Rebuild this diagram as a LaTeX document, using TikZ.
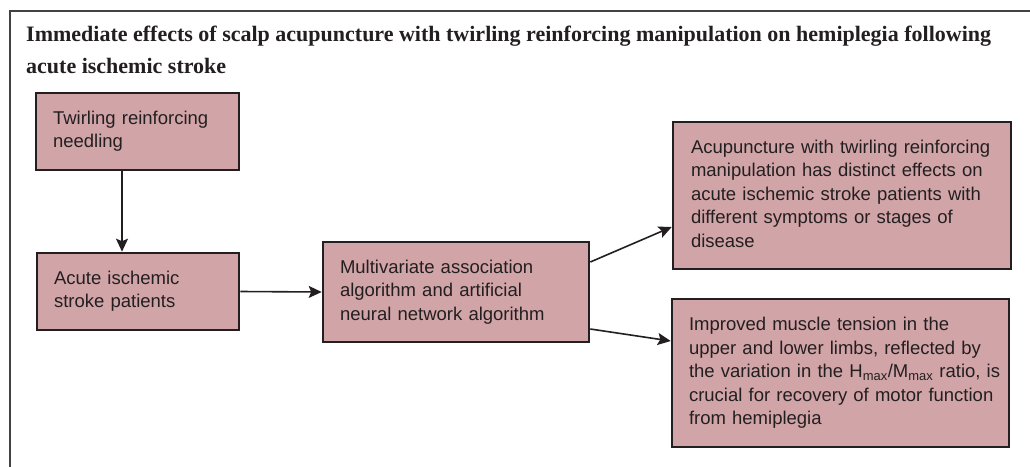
\documentclass[tikz,border=0pt]{standalone}
\usepackage{fontspec}
\setmainfont{Liberation Serif}
\newfontfamily\boxfont{Liberation Sans}
\usetikzlibrary{arrows.meta}
\definecolor{boxfill}{HTML}{D1A4A7}
\definecolor{ink}{HTML}{231F20}
\newcommand{\boxlines}[1]{\begin{tabular}{@{}l@{}}#1\end{tabular}}
\tikzset{
  flowbox/.style={draw=ink, line width=2.6pt, fill=boxfill, text=ink,
    font=\boxfont\fontsize{18.5}{23.5}\selectfont, align=left,
    inner xsep=17pt, inner ysep=0pt, anchor=center},
  arr/.style={draw=ink, line width=1.6pt, -{Stealth[length=13pt,width=12pt,inset=2.5pt]}},
  frame/.style={draw=ink!85, line width=1.4pt}
}
\begin{document}
\begin{tikzpicture}[x=1pt,y=-1pt]
\useasboundingbox (0,0) rectangle (1030,466);
\coordinate (fa) at (10,470);
\coordinate (fb) at (10,11);
\coordinate (fc) at (1035,11);
\draw[frame] (fa) -- (fb) -- (fc);
\node[anchor=base west, align=left, text=ink, inner sep=0pt,
  font=\bfseries\fontsize{22}{31.5}\selectfont] (title) at (26,73)
  {Immediate effects of scalp acupuncture with twirling reinforcing manipulation on hemiplegia following\\acute ischemic stroke};
\node[flowbox, minimum width=203pt, minimum height=77pt, text width=169pt] (b1) at (137.5,131.5)
  {\boxlines{Twirling reinforcing\\needling}};
\node[flowbox, minimum width=202pt, minimum height=77pt, text width=168pt] (b2) at (138,291.5)
  {\boxlines{Acute ischemic\\stroke patients}};
\node[flowbox, minimum width=266pt, minimum height=100pt, text width=232pt] (b3) at (456,292)
  {\boxlines{Multivariate association\\algorithm and artificial\\neural network algorithm}};
\node[flowbox, minimum width=338pt, minimum height=147pt, text width=302pt, inner xsep=18pt] (b4) at (842,195.5)
  {\boxlines{Acupuncture with twirling reinforcing\\manipulation has distinct effects on\\acute ischemic stroke patients with\\different symptoms or stages of\\disease}};
\node[flowbox, minimum width=337pt, minimum height=148pt, text width=303pt] (b5) at (840.5,373)
  {\boxlines{Improved muscle tension in the\\upper and lower limbs, reflected by\\the variation in the H\textsubscript{max}/M\textsubscript{max} ratio, is\\crucial for recovery of motor function\\from hemiplegia}};
\draw[arr] ([xshift=-15.5pt]b1.south) -- ([xshift=-16pt]b2.north);
\draw[arr] (b2.east) -- (b3.west);
\draw[arr] ([yshift=30pt]b3.east) -- ([yshift=-31.5pt]b4.west);
\draw[arr] ([yshift=-37pt]b3.east) -- ([yshift=32pt]b5.west);
\end{tikzpicture}
\end{document}
